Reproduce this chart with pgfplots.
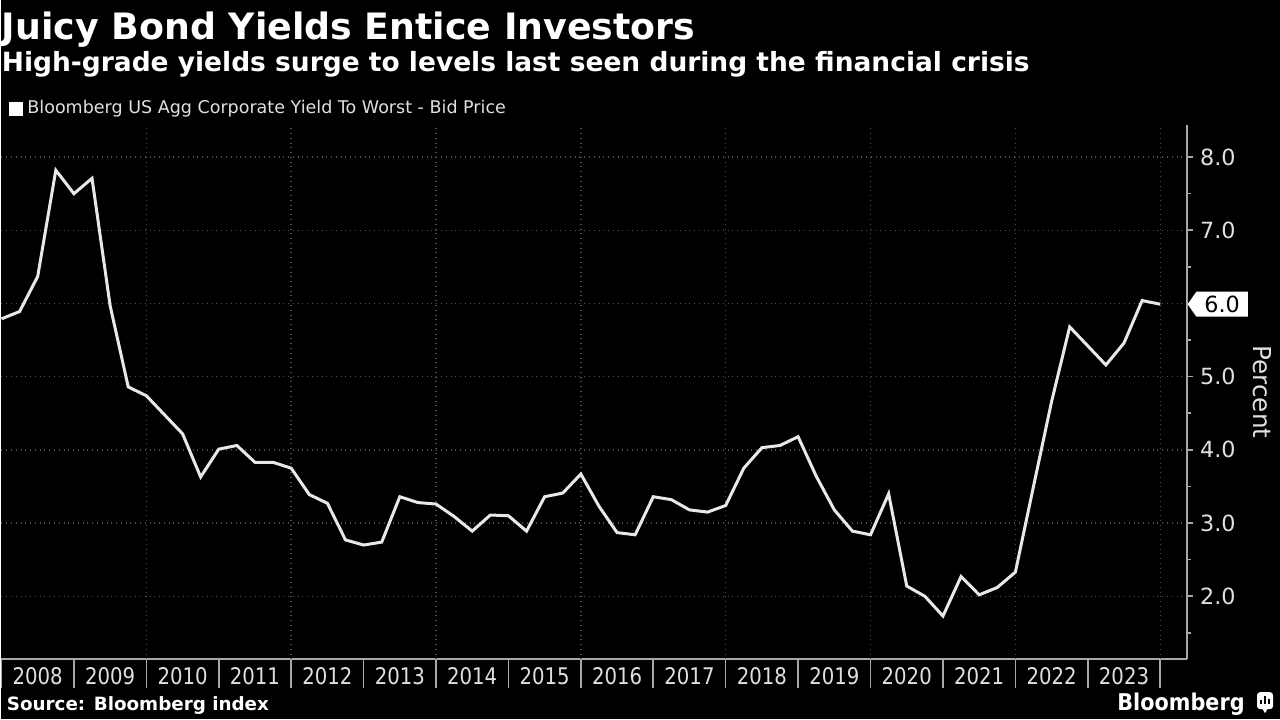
\documentclass[border=0pt]{standalone}
\usepackage{fontspec}
\setmainfont{DejaVu Sans}
\newfontfamily\condfont[FakeStretch=0.86]{DejaVu Sans}
\newfontfamily\condboldfont[FakeStretch=0.9]{DejaVu Sans Bold}
\usepackage{pgfplots}
\pgfplotsset{compat=1.18}
\usetikzlibrary{shapes.symbols}
\definecolor{linec}{HTML}{E8E8E8}
\definecolor{axisc}{HTML}{A8A8A8}
\definecolor{gridc}{HTML}{505050}
\definecolor{labc}{HTML}{E0E0E0}
\pgfplotstableread{
x y
2008.00 5.79
2008.25 5.89
2008.50 6.37
2008.75 7.82
2009.00 7.50
2009.25 7.71
2009.50 5.97
2009.75 4.86
2010.00 4.74
2010.25 4.48
2010.50 4.22
2010.75 3.63
2011.00 4.01
2011.25 4.06
2011.50 3.83
2011.75 3.83
2012.00 3.75
2012.25 3.39
2012.50 3.27
2012.75 2.77
2013.00 2.70
2013.25 2.74
2013.50 3.36
2013.75 3.28
2014.00 3.26
2014.25 3.09
2014.50 2.89
2014.75 3.11
2015.00 3.10
2015.25 2.89
2015.50 3.36
2015.75 3.41
2016.00 3.67
2016.25 3.23
2016.50 2.87
2016.75 2.84
2017.00 3.36
2017.25 3.32
2017.50 3.18
2017.75 3.15
2018.00 3.24
2018.25 3.75
2018.50 4.03
2018.75 4.06
2019.00 4.18
2019.25 3.64
2019.50 3.18
2019.75 2.89
2020.00 2.84
2020.25 3.40
2020.50 2.14
2020.75 2.00
2021.00 1.73
2021.25 2.27
2021.50 2.02
2021.75 2.12
2022.00 2.33
2022.25 3.50
2022.50 4.66
2022.75 5.68
2023.00 5.42
2023.25 5.16
2023.50 5.46
2023.75 6.04
2024.00 5.99
}\yieldtable
\begin{document}
\begin{tikzpicture}[x=0.5bp,y=-0.5bp]
\fill[black] (0,0) rectangle (1280,720);
\node[anchor=base west, inner sep=0pt, text=white, font=\fontsize{18.25}{20}\selectfont\bfseries] at (0,40) {Juicy Bond Yields Entice Investors};
\node[anchor=base west, inner sep=0pt, text=white, font=\fontsize{13.3}{15}\selectfont\bfseries] at (0,72) {High-grade yields surge to levels last seen during the financial crisis};
\begin{axis}[
  at={(0bp,-62.5bp)}, anchor=north west,
  scale only axis, width=593.5bp, height=267.5bp,
  xmin=2008, xmax=2024.372, ymin=1.14, ymax=8.44,
  axis x line*=bottom, axis y line*=right,
  axis line style={axisc, line width=1bp},
  clip=false,
  /pgf/number format/assume math mode=true,
  xtick={2008,2009,2010,2011,2012,2013,2014,2015,2016,2017,2018,2019,2020,2021,2022,2023,2024},
  xticklabels={2008,2009,2010,2011,2012,2013,2014,2015,2016,2017,2018,2019,2020,2021,2022,2023},
  x tick label as interval,
  xtick style={draw=none},
  x tick label style={text=labc, font=\condfont\fontsize{11.5}{13}\selectfont, inner sep=0pt, anchor=north, yshift=-1bp},
  ytick={2,3,4,5,6,7,8},
  yticklabels={2.0,3.0,4.0,5.0,,7.0,8.0},
  minor ytick={1.5,2.5,3.5,4.5,5.5,6.5,7.5},
  ymajorgrids,
  grid style={gridc, dotted, line width=0.7bp},
  tick align=outside,
  major tick length=3bp, minor tick length=2bp,
  ytick style={axisc, line width=0.8bp},
  yticklabel style={text=labc, font=\fontsize{11.2}{13}\selectfont},
  extra x ticks={2010,2012,2014,2016,2018,2020,2022,2024},
  extra x tick labels={},
  extra x tick style={xmajorgrids=true, x tick label as interval=false},
  ylabel={Percent},
  ylabel style={at={(axis description cs:1.0632,0.5)}, anchor=center, rotate=180, text=labc, font=\fontsize{12.4}{14}\selectfont},
  legend style={at={(axis description cs:0,1)}, anchor=south west, draw=none, fill=none, text=labc, font=\fontsize{8.8}{10}\selectfont, inner sep=0pt, outer sep=0pt, xshift=4bp, yshift=2bp},
  legend cell align=left,
  legend image code/.code={\fill[white] (0.5pt,-2.8pt) rectangle (6pt,2.8pt);},
]
\addplot[linec, line width=1.5bp] table[x=x,y=y] {\yieldtable};
\addlegendentry{Bloomberg US Agg Corporate Yield To Worst - Bid Price}
\pgfplotsinvokeforeach{2008,2009,2010,2011,2012,2013,2014,2015,2016,2017,2018,2019,2020,2021,2022,2023,2024}{
  \draw[axisc, line width=0.8bp] (axis cs:#1,1.14) -- ++(0pt,-14.5bp);
}
\coordinate (last) at (axis cs:2024.372,5.99);
\end{axis}
\node[signal, signal to=west, signal pointer angle=110, fill=white, text=black, anchor=west, inner xsep=4bp, inner ysep=1.5bp, minimum height=12.5bp, font=\fontsize{11.2}{13}\selectfont] at (last) {6.0};
\node[anchor=base west, inner sep=0pt, text=white, font=\fontsize{9.2}{11}\selectfont\bfseries] at (5,711) {Source: Bloomberg index};
\node[anchor=base east, inner sep=0pt, text=white, font=\condboldfont\fontsize{11.6}{13}\selectfont] at (1245,711) {Bloomberg};
\fill[white, rounded corners=1.5bp] (1257,693) rectangle (1273,710);
\fill[white] (1262,709) -- (1265,714) -- (1268,709) -- cycle;
\fill[black] (1260,705) rectangle (1262,701);
\fill[black] (1264,705) rectangle (1266,697);
\fill[black] (1268,705) rectangle (1270,700);
\end{tikzpicture}
\end{document}
